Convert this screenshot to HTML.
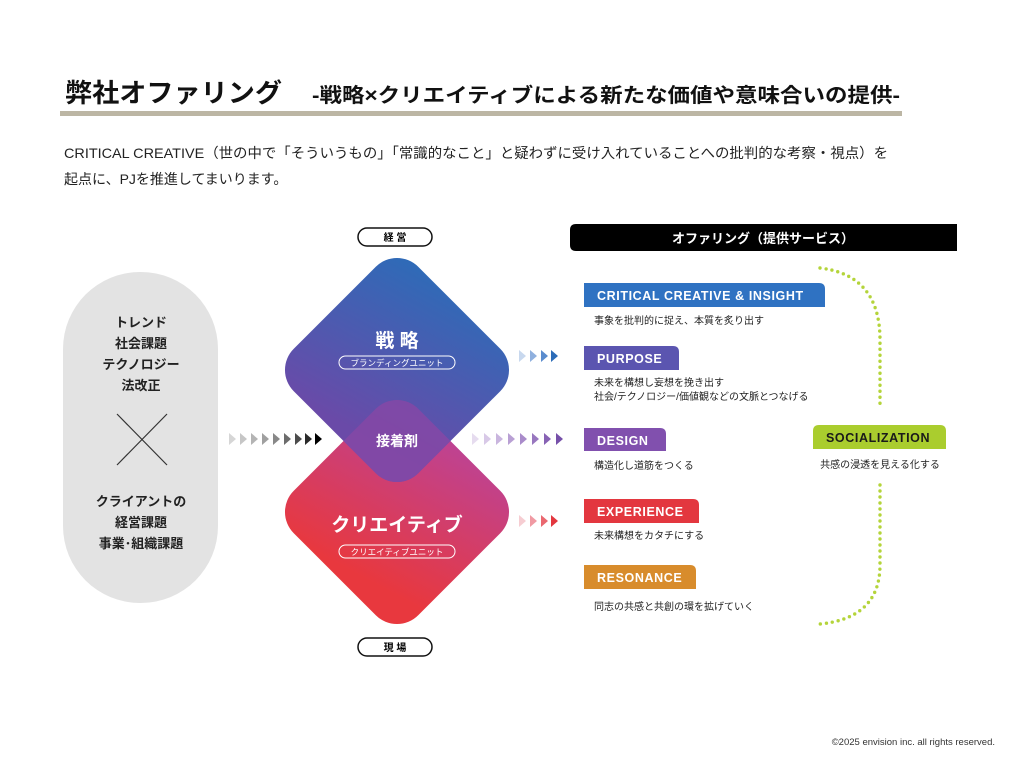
<!DOCTYPE html>
<html><head><meta charset="utf-8"><style>
html,body{margin:0;padding:0;background:#fff}
svg{display:block}
text{font-family:"Liberation Sans","Noto Sans CJK JP",sans-serif}
</style></head><body>
<svg width="1024" height="776" viewBox="0 0 1024 776" xmlns="http://www.w3.org/2000/svg">
<defs>
<linearGradient id="gt" x1="0" y1="0" x2="0.3" y2="1">
<stop offset="0" stop-color="#2c6cb8"/><stop offset="1" stop-color="#6a4aa8"/></linearGradient>
<linearGradient id="gb" x1="0" y1="0" x2="0.3" y2="1">
<stop offset="0" stop-color="#b8449e"/><stop offset="1" stop-color="#e8383e"/></linearGradient>
<clipPath id="ct"><rect x="-88" y="-88" width="176" height="176" rx="30" transform="translate(397,370) rotate(45)"/></clipPath>
</defs>
<text x="65" y="102" font-size="26" font-weight="bold" fill="#111" textLength="217" lengthAdjust="spacingAndGlyphs">弊社オファリング</text>
<text x="312" y="102" font-size="20" font-weight="bold" fill="#111" textLength="588" lengthAdjust="spacingAndGlyphs">-戦略×クリエイティブによる新たな価値や意味合いの提供-</text>
<rect x="60" y="111" width="842" height="5" fill="#bcb6a4"/>
<text x="64" y="158" font-size="14" fill="#222" textLength="824" lengthAdjust="spacingAndGlyphs">CRITICAL CREATIVE（世の中で「そういうもの」「常識的なこと」と疑わずに受け入れていることへの批判的な考察・視点）を</text>
<text x="64" y="184" font-size="14" fill="#222">起点に、PJを推進してまいります。</text>

<rect x="63" y="272" width="155" height="331" rx="77" fill="#e3e3e3"/>
<g font-size="13" font-weight="bold" fill="#222" text-anchor="middle">
<text x="141" y="327">トレンド</text><text x="141" y="348">社会課題</text><text x="141" y="369">テクノロジー</text><text x="141" y="390">法改正</text>
<text x="141" y="506">クライアントの</text><text x="141" y="527">経営課題</text><text x="141" y="548">事業･組織課題</text>
</g>
<line x1="117" y1="414" x2="167" y2="465" stroke="#333" stroke-width="1.2"/>
<line x1="167" y1="414" x2="117" y2="465" stroke="#333" stroke-width="1.2"/>

<g>
<polygon points="229,433 236,439 229,445" fill="#d6d6d6"/><polygon points="240,433 247,439 240,445" fill="#c6c6c6"/>
<polygon points="251,433 258,439 251,445" fill="#b4b4b4"/><polygon points="262,433 269,439 262,445" fill="#a0a0a0"/>
<polygon points="273,433 280,439 273,445" fill="#888"/><polygon points="284,433 291,439 284,445" fill="#6c6c6c"/>
<polygon points="295,433 302,439 295,445" fill="#4c4c4c"/><polygon points="305,433 312,439 305,445" fill="#2a2a2a"/>
<polygon points="315,433 322,439 315,445" fill="#000"/>
</g>

<rect x="-88" y="-88" width="176" height="176" rx="30" transform="translate(397,512) rotate(45)" fill="url(#gb)"/>
<rect x="-88" y="-88" width="176" height="176" rx="30" transform="translate(397,370) rotate(45)" fill="url(#gt)"/>
<g clip-path="url(#ct)"><rect x="-88" y="-88" width="176" height="176" rx="30" transform="translate(397,512) rotate(45)" fill="#8548a6" opacity="0.85"/></g>

<g fill="#fff" text-anchor="middle" font-weight="bold">
<text x="397" y="347" font-size="19">戦 略</text>
<text x="397" y="446" font-size="14">接着剤</text>
<text x="397" y="531" font-size="19">クリエイティブ</text>
</g>
<rect x="339" y="356" width="116" height="13" rx="6.5" fill="none" stroke="#fff" stroke-width="1"/>
<text x="397" y="366" font-size="8.5" fill="#fff" text-anchor="middle">ブランディングユニット</text>
<rect x="339" y="545" width="116" height="13" rx="6.5" fill="none" stroke="#fff" stroke-width="1"/>
<text x="397" y="555" font-size="8.5" fill="#fff" text-anchor="middle">クリエイティブユニット</text>

<rect x="358" y="228" width="74" height="18" rx="9" fill="#fff" stroke="#111" stroke-width="1.5"/>
<text x="395" y="241" font-size="10" font-weight="bold" text-anchor="middle">経 営</text>
<rect x="358" y="638" width="74" height="18" rx="9" fill="#fff" stroke="#111" stroke-width="1.5"/>
<text x="395" y="651" font-size="10" font-weight="bold" text-anchor="middle">現 場</text>

<g>
<polygon points="519,350 526,356 519,362" fill="#c8d8ee"/><polygon points="530,350 537,356 530,362" fill="#8fb0de"/>
<polygon points="541,350 548,356 541,362" fill="#5a8cce"/><polygon points="551,350 558,356 551,362" fill="#2c6cb8"/>
<polygon points="519,515 526,521 519,527" fill="#f6cdd2"/><polygon points="530,515 537,521 530,527" fill="#f09aa3"/>
<polygon points="541,515 548,521 541,527" fill="#ea6870"/><polygon points="551,515 558,521 551,527" fill="#e3373f"/>
<polygon points="472,433 479,439 472,445" fill="#e6dcef"/><polygon points="484,433 491,439 484,445" fill="#d8c9e7"/>
<polygon points="496,433 503,439 496,445" fill="#c9b5de"/><polygon points="508,433 515,439 508,445" fill="#b9a0d4"/>
<polygon points="520,433 527,439 520,445" fill="#a98bca"/><polygon points="532,433 539,439 532,445" fill="#9877bf"/>
<polygon points="544,433 551,439 544,445" fill="#8762b4"/><polygon points="556,433 563,439 556,445" fill="#7650a9"/>
</g>

<path d="M576,224 H957 V251 H576 Q570,251 570,245 V230 Q570,224 576,224 Z" fill="#000"/>
<text x="763" y="243" font-size="13" font-weight="bold" fill="#fff" text-anchor="middle">オファリング（提供サービス）</text>

<g font-weight="bold" fill="#fff" font-size="12.5" letter-spacing="0.6">
<path d="M584,283 H819 Q825,283 825,289 V307 H584 Z" fill="#2f72c2"/><text x="597" y="300">CRITICAL CREATIVE &amp; INSIGHT</text>
<path d="M584,346 H673 Q679,346 679,352 V370 H584 Z" fill="#5b55b0"/><text x="597" y="363">PURPOSE</text>
<path d="M584,428 H660 Q666,428 666,434 V451 H584 Z" fill="#8150ae"/><text x="597" y="445">DESIGN</text>
<path d="M584,499 H693 Q699,499 699,505 V523 H584 Z" fill="#e3373f"/><text x="597" y="516">EXPERIENCE</text>
<path d="M584,565 H690 Q696,565 696,571 V589 H584 Z" fill="#d88c2c"/><text x="597" y="582">RESONANCE</text>
<path d="M819,425 H940 Q946,425 946,431 V449 H813 V431 Q813,425 819,425 Z" fill="#aacd2e"/><text x="826" y="442" fill="#1a1a1a">SOCIALIZATION</text>
</g>
<g font-size="10" fill="#222">
<text x="594" y="324">事象を批判的に捉え、本質を炙り出す</text>
<text x="594" y="386">未来を構想し妄想を挽き出す</text>
<text x="594" y="400">社会/テクノロジー/価値観などの文脈とつなげる</text>
<text x="594" y="469">構造化し道筋をつくる</text>
<text x="594" y="539">未来構想をカタチにする</text>
<text x="594" y="610">同志の共感と共創の環を拡げていく</text>
<text x="880" y="468" text-anchor="middle">共感の浸透を見える化する</text>
</g>
<g fill="none" stroke="#b4d43a" stroke-width="3.4" stroke-linecap="round" stroke-dasharray="0 6">
<path d="M820,268 Q880,275 880,340 V407"/>
<path d="M880,485 V565 Q880,618 820,624"/>
</g>
<text x="995" y="745" font-size="9.5" fill="#333" text-anchor="end">©2025 envision inc. all rights reserved.</text>
</svg>
</body></html>
